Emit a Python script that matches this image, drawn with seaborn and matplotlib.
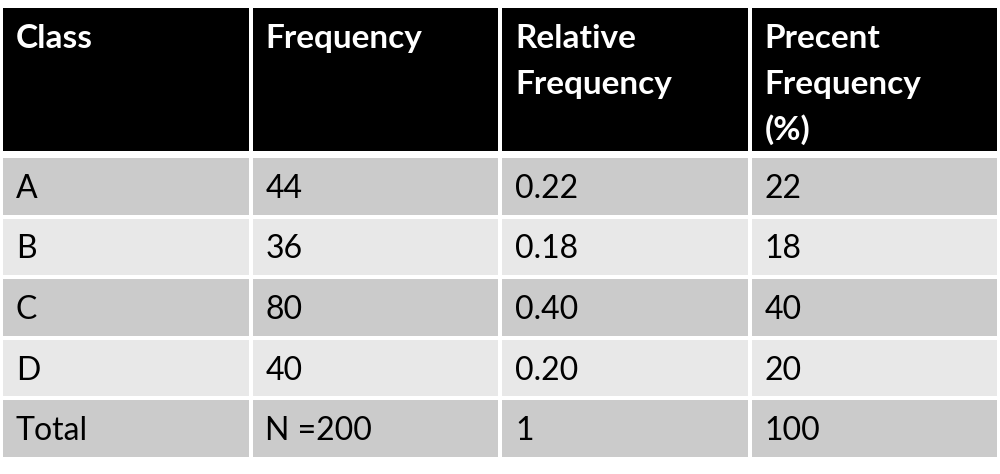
import numpy as np
import pandas as pd
import matplotlib
matplotlib.use("Agg")
import matplotlib.pyplot as plt
from matplotlib.colors import ListedColormap
import seaborn as sns

# ---- data ----
headers = ["Class", "Frequency", "Relative\nFrequency", "Precent\nFrequency\n(%)"]
classes = ["A", "B", "C", "D"]
frequency = [44, 36, 80, 40]
relative = [0.22, 0.18, 0.40, 0.20]
percent = [22, 18, 40, 20]
total_row = ["Total", "N =200", "1", "100"]

rows = [[c, str(f), f"{r:.2f}", str(p)] for c, f, r, p in zip(classes, frequency, relative, percent)]
rows.append(total_row)

sns.set_theme(style="white")
plt.rcParams['font.family'] = ['Lato', 'DejaVu Sans']

W, H = 1000, 474
fig = plt.figure(figsize=(W / 100, H / 100), dpi=100)
fig.patch.set_facecolor("white")

def px_axes(x0, y0, x1, y1):
    return fig.add_axes([x0 / W, 1 - y1 / H, (x1 - x0) / W, (y1 - y0) / H])

ncol = len(headers)

# header
axh = px_axes(1, 6, 999, 153)
hdr = pd.DataFrame(np.zeros((1, ncol)))
sns.heatmap(hdr, ax=axh, cmap=ListedColormap(["#000000"]), cbar=False,
            linewidths=1.5, linecolor="white", xticklabels=False, yticklabels=False)
hh = 147.0
baselines = [42, 88, 134]
for j, lab in enumerate(headers):
    for k, line in enumerate(lab.split("\n")):
        axh.text(j + 15 / 250, baselines[k] / hh, line, color="white", fontsize=24,
                 fontweight="bold", ha="left", va="baseline")

# body
axb = px_axes(1, 156, 999, 459)
shade = pd.DataFrame([[i % 2] * ncol for i in range(len(rows))])
sns.heatmap(shade, ax=axb, cmap=ListedColormap(["#cbcbcb", "#e8e8e8"]), cbar=False,
            linewidths=1.5, linecolor="white", xticklabels=False, yticklabels=False,
            vmin=0, vmax=1)
for i, r in enumerate(rows):
    for j, val in enumerate(r):
        axb.text(j + 15 / 250, i + 0.69, val, color="black", fontsize=23,
                 ha="left", va="baseline")

for ax in (axh, axb):
    for s in ax.spines.values():
        s.set_visible(False)

fig.savefig("out.png", dpi=100, facecolor="white")
